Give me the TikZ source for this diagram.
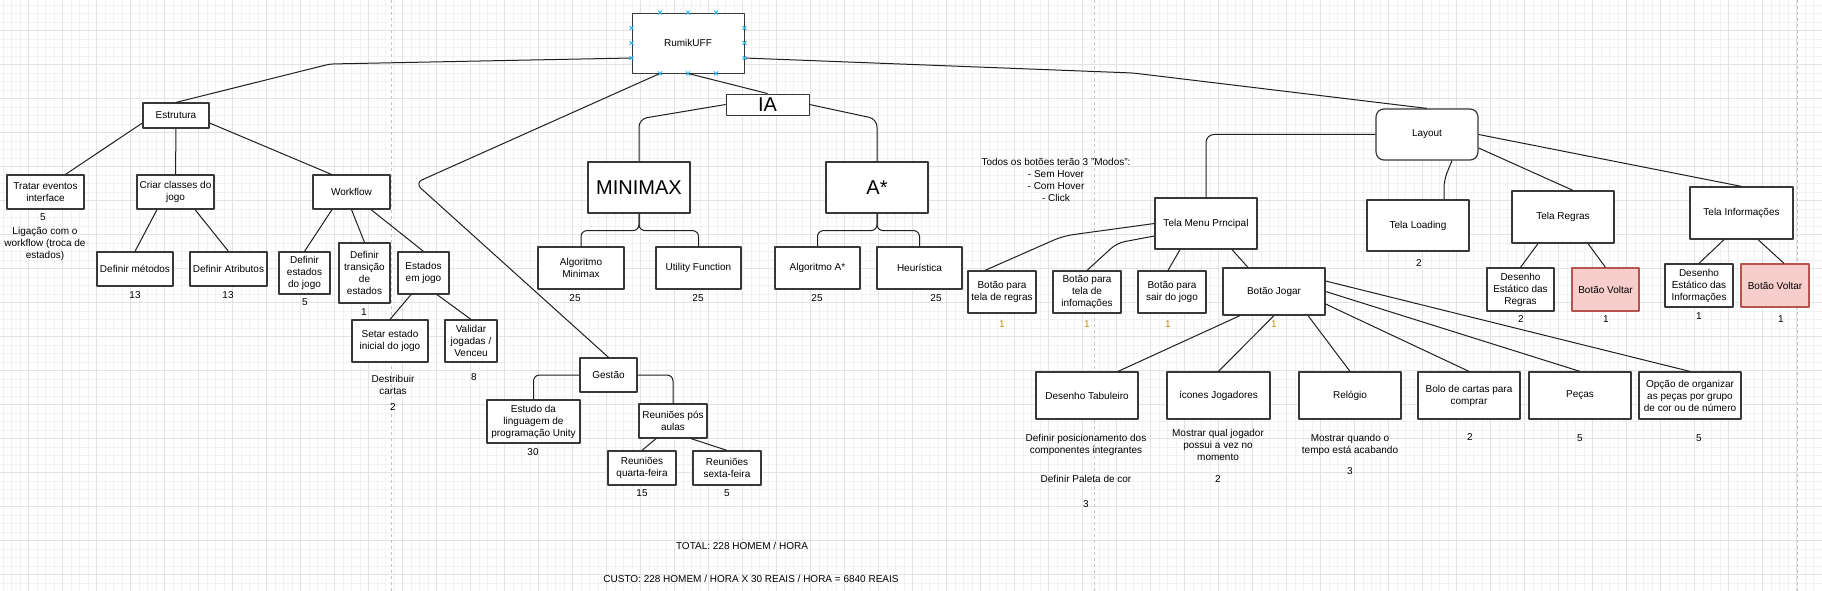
\documentclass[tikz,border=0pt]{standalone}
\usepackage{fontspec}
\setmainfont{Liberation Sans}

\definecolor{gridmin}{HTML}{F2F2F2}
\definecolor{gridmaj}{HTML}{E3E3E3}
\definecolor{pagebrk}{HTML}{C4C4C4}
\definecolor{voltfill}{HTML}{F8CECC}
\definecolor{voltline}{HTML}{B85450}
\definecolor{handle}{HTML}{29B6F2}
\definecolor{ptsorange}{HTML}{C98A0C}

\tikzset{
  box/.style={draw=black!78, line width=1.2pt, fill=white, align=center, inner sep=1pt,
    font=\fontsize{10}{12}\selectfont},
  bigbox/.style={box, font=\fontsize{20}{24}\selectfont},
  redbox/.style={box, fill=voltfill, draw=voltline},
  wh/.style 2 args={minimum width=#1pt, minimum height=#2pt},
  lbl/.style={align=center, inner sep=0pt, font=\fontsize{10}{12}\selectfont},
  link/.style={draw=black!88, line width=1pt},
  handlemark/.style={draw=handle, line width=0.8pt},
}

\begin{document}
\begin{tikzpicture}[x=1pt,y=-1pt,line join=round]
  \useasboundingbox (0,0) rectangle (1822,591);
  \fill[white] (0,0) rectangle (1822,591);
  % grid
  \foreach \k in {0,...,214} \draw[gridmin,line width=0.5pt] ({2.8+8.5*\k},0) -- ++(0,591);
  \foreach \k in {0,...,68} \draw[gridmin,line width=0.5pt] (0,{5.2+8.5*\k}) -- ++(1822,0);
  \foreach \k in {0,...,52} \draw[gridmaj,line width=0.6pt] ({28.3+34*\k},0) -- ++(0,591);
  \foreach \k in {0,...,16} \draw[gridmaj,line width=0.6pt] (0,{30.7+34*\k}) -- ++(1822,0);
  \foreach \px in {391.7,1094.3,1797.2}
    \draw[pagebrk,line width=0.7pt,dash pattern=on 3pt off 3pt] (\px,0) -- ++(0,591);

  % root
  \node[box, wh={112}{60}, line width=0.9pt] (rumik) at (688,43) {RumikUFF};

  % Estrutura
  \node[box, wh={66}{25}] (estr) at (176,115.5) {Estrutura};
  \node[box, wh={77}{34}] (tratar) at (45.5,192) {Tratar eventos\\interface};
  \node[box, wh={77}{34}] (criar) at (175.5,192) {Criar classes do\\jogo};
  \node[box, wh={77}{34}] (workflow) at (351.5,192) {Workflow};
  \node[box, wh={76}{34}] (defmet) at (135,269) {Definir métodos};
  \node[box, wh={77}{34}] (defatr) at (228.5,269) {Definir Atributos};
  \node[box, wh={51}{42}] (defest) at (304.5,273) {Definir\\estados\\do jogo};
  \node[box, wh={51}{60}] (deftra) at (364.5,273) {Definir\\transição\\de\\estados};
  \node[box, wh={51}{42}] (estjogo) at (423.5,273) {Estados\\em jogo};
  \node[box, wh={76}{42}] (setar) at (390,341) {Setar estado\\inicial do jogo};
  \node[box, wh={52}{42}] (validar) at (471,341) {Validar\\jogadas /\\Venceu};
  \node[lbl] (hTratar) at (43,217) {5};
  \node[lbl] (nTratar) at (45,244) {Ligação com o\\workflow (troca de\\estados)};
  \node[lbl] (hDefmet) at (135,295) {13};
  \node[lbl] (hDefatr) at (228,295) {13};
  \node[lbl] (hDefest) at (305,302) {5};
  \node[lbl] (hDeftra) at (364,312) {1};
  \node[lbl] (nSetar) at (393,385) {Destribuir\\cartas};
  \node[lbl] (hSetar) at (393,407) {2};
  \node[lbl] (hValidar) at (474,377) {8};

  % IA
  \node[bigbox, wh={83}{21}, line width=0.9pt] (ia) at (767.5,104.5) {IA};
  \node[bigbox, wh={102}{51}] (minimax) at (639,187.5) {MINIMAX};
  \node[bigbox, wh={102}{51}] (astar) at (877,187.5) {A*};
  \node[box, wh={86}{42}] (algmm) at (581,268) {Algoritmo\\Minimax};
  \node[box, wh={85}{42}] (utility) at (698.5,268) {Utility Function};
  \node[box, wh={85}{42}] (algastar) at (817.5,268) {Algoritmo A*};
  \node[box, wh={85}{42}] (heur) at (919.5,268) {Heurística};
  \node[lbl] (hAlgmm) at (575,298) {25};
  \node[lbl] (hUtility) at (698,298) {25};
  \node[lbl] (hAlgastar) at (817,298) {25};
  \node[lbl] (hHeur) at (936,298) {25};

  % Gestao
  \node[box, wh={57}{34}] (gestao) at (608.5,375) {Gestão};
  \node[box, wh={93}{43}] (estudo) at (533.5,421.5) {Estudo da\\linguagem de\\programação Unity};
  \node[box, wh={68}{34}] (reunpos) at (673,421) {Reuniões pós\\aulas};
  \node[box, wh={68}{34}] (reunqua) at (642,468) {Reuniões\\quarta-feira};
  \node[box, wh={68}{34}] (reunsex) at (727,468) {Reuniões\\sexta-feira};
  \node[lbl] (hEstudo) at (533,452) {30};
  \node[lbl] (hReunqua) at (642,493) {15};
  \node[lbl] (hReunsex) at (727,493) {5};

  \node[lbl] (total) at (742,546) {TOTAL: 228 HOMEM / HORA};
  \node[lbl] (custo) at (751,579) {CUSTO: 228 HOMEM / HORA X 30 REAIS / HORA = 6840 REAIS};

  % Layout
  \node[box, wh={102}{51}, rounded corners=8pt] (layout) at (1427,134.5) {Layout};
  \node[box, wh={102}{51}] (menu) at (1206,223.5) {Tela Menu Prncipal};
  \node[box, wh={102}{51}] (loading) at (1418,225.5) {Tela Loading};
  \node[box, wh={102}{52}] (regras) at (1563,217) {Tela Regras};
  \node[box, wh={103}{52}] (info) at (1741.5,213) {Tela Informações};
  \node[box, wh={67}{43}] (desreg) at (1520.5,289.5) {Desenho\\Estático das\\Regras};
  \node[redbox, wh={67}{43}] (volt1) at (1605.5,289.5) {Botão Voltar};
  \node[box, wh={68}{43}] (desinf) at (1699,285.5) {Desenho\\Estático das\\Informações};
  \node[redbox, wh={68}{43}] (volt2) at (1775,285.5) {Botão Voltar};
  \node[lbl] (hLoading) at (1419,263) {2};
  \node[lbl] (hDesreg) at (1521,319) {2};
  \node[lbl] (hVolt1) at (1606,319) {1};
  \node[lbl] (hDesinf) at (1699,316) {1};
  \node[lbl] (hVolt2) at (1781,319) {1};

  \node[lbl] (modos) at (1056,180) {Todos os botões terão 3 "Modos":\\- Sem Hover\\- Com Hover\\- Click};
  \node[box, wh={68}{42}] (bregras) at (1002,292) {Botão para\\tela de regras};
  \node[box, wh={68}{42}] (binfo) at (1087,292) {Botão para\\tela de\\infomações};
  \node[box, wh={68}{42}] (bsair) at (1172,292) {Botão para\\sair do jogo};
  \node[box, wh={102}{47}] (bjogar) at (1274,291.5) {Botão Jogar};
  \node[lbl, text=ptsorange] (hBregras) at (1002,324) {1};
  \node[lbl, text=ptsorange] (hBinfo) at (1087,324) {1};
  \node[lbl, text=ptsorange] (hBsair) at (1168,324) {1};
  \node[lbl, text=ptsorange] (hBjogar) at (1274,324) {1};

  \node[box, wh={102}{47}] (destab) at (1087,395.5) {Desenho Tabuleiro};
  \node[box, wh={103}{47}] (icones) at (1218.5,395.5) {ícones Jogadores};
  \node[box, wh={102}{47}] (relogio) at (1350,395.5) {Relógio};
  \node[box, wh={102}{47}] (bolo) at (1469,395.5) {Bolo de cartas para\\comprar};
  \node[box, wh={102}{47}] (pecas) at (1580,395.5) {Peças};
  \node[box, wh={102}{47}] (opcao) at (1690,395.5) {Opção de organizar\\as peças por grupo\\de cor ou de número};
  \node[lbl] (nDestab) at (1086,445) {Definir posicionamento dos\\componentes integrantes};
  \node[lbl] (pDestab) at (1086,479) {Definir Paleta de cor};
  \node[lbl] (hDestab) at (1086,504) {3};
  \node[lbl] (nIcones) at (1218,445) {Mostrar qual jogador\\possui a vez no\\momento};
  \node[lbl] (hIcones) at (1218,479) {2};
  \node[lbl] (nRelogio) at (1350,445) {Mostrar quando o\\tempo está acabando};
  \node[lbl] (hRelogio) at (1350,471) {3};
  \node[lbl] (hBolo) at (1470,437) {2};
  \node[lbl] (hPecas) at (1580,438) {5};
  \node[lbl] (hOpcao) at (1699,438) {5};

  % connectors
  \draw[link, rounded corners=4pt] (estr.north) -- (330,64) -- ([yshift=-15pt]rumik.west);
  \draw[link, rounded corners=4pt] ([yshift=-15pt]rumik.east) -- (1133,73) -- (layout.north);
  \draw[link] (rumik.south) -- (ia.north);
  \draw[link, rounded corners=8pt] ([xshift=-28pt]rumik.south) -- (415,183) -- (gestao.north);

  \draw[link] ([yshift=-7.5pt]estr.west) -- ([xshift=20pt]tratar.north);
  \draw[link] (estr.south) -- (criar.north);
  \draw[link] ([yshift=-7.5pt]estr.east) -- ([xshift=-20pt]workflow.north);
  \draw[link] ([xshift=-18.5pt]criar.south) -- (defmet.north);
  \draw[link] ([xshift=19.5pt]criar.south) -- (defatr.north);
  \draw[link] ([xshift=-19.5pt]workflow.south) -- (defest.north);
  \draw[link] (workflow.south) -- (deftra.north);
  \draw[link] ([xshift=19.5pt]workflow.south) -- (estjogo.north);
  \draw[link] ([xshift=-12.5pt]estjogo.south) -- (setar.north);
  \draw[link] ([xshift=13.5pt]estjogo.south) -- (validar.north);

  \draw[link, rounded corners=8pt] (ia.west) -- (639,119) -- (minimax.north);
  \draw[link, rounded corners=8pt] (ia.east) -- (877,119) -- (astar.north);
  \draw[link, rounded corners=6pt] (minimax.south) -- ++(0,17) -| (algmm.north);
  \draw[link, rounded corners=6pt] (minimax.south) -- ++(0,17) -| (utility.north);
  \draw[link, rounded corners=6pt] (astar.south) -- ++(0,17) -| (algastar.north);
  \draw[link, rounded corners=6pt] (astar.south) -- ++(0,17) -| (heur.north);

  \draw[link, rounded corners=6pt] (gestao.west) -| (estudo.north);
  \draw[link, rounded corners=6pt] (gestao.east) -| (reunpos.north);
  \draw[link] ([xshift=-17pt]reunpos.south) -- (reunqua.north);
  \draw[link] ([xshift=18pt]reunpos.south) -- (reunsex.north);

  \draw[link, rounded corners=8pt] (layout.west) -| (menu.north);
  \draw[link, rounded corners=8pt] ([xshift=25pt]layout.south) -- (1444,180) -- ([xshift=26pt]loading.north);
  \draw[link] ([yshift=-13.5pt]layout.east) -- ([xshift=10pt]regras.north);
  \draw[link] (layout.east) -- (info.north);
  \draw[link] ([xshift=-25pt]regras.south) -- (desreg.north);
  \draw[link] ([xshift=25pt]regras.south) -- (volt1.north);
  \draw[link] ([xshift=-17.5pt]info.south) -- (desinf.north);
  \draw[link] ([xshift=16.5pt]info.south) -- ([xshift=9pt]volt2.north);

  \draw[link, rounded corners=10pt] (menu.west) -- (1063,236) -- ([xshift=-17pt]bregras.north);
  \draw[link, rounded corners=8pt] ([yshift=-12.5pt]menu.west) -- (1117,243) -- (binfo.north);
  \draw[link] ([xshift=-26pt]menu.south) -- ([xshift=-4pt]bsair.north);
  \draw[link] ([xshift=26pt]menu.south) -- ([xshift=-26pt]bjogar.north);

  \draw[link] ([xshift=-34pt]bjogar.south) -- ([xshift=31pt]destab.north);
  \draw[link] (bjogar.south) -- (icones.north);
  \draw[link] ([xshift=34pt]bjogar.south) -- (relogio.north);
  \draw[link] ([yshift=-12.5pt]bjogar.east) -- (bolo.north);
  \draw[link] (bjogar.east) -- (pecas.north);
  \draw[link] ([yshift=10.5pt]bjogar.east) -- (opcao.north);

  % handles on the root box
  \foreach \hx in {-28,0,28} {
    \draw[handlemark] ([xshift=\hx pt]rumik.north) ++(-2,-2) -- ++(4,4) ++(-4,0) -- ++(4,-4);
    \draw[handlemark] ([xshift=\hx pt]rumik.south) ++(-2,-2) -- ++(4,4) ++(-4,0) -- ++(4,-4);
  }
  \foreach \hy in {15,0,-15} {
    \draw[handlemark] ([yshift=\hy pt]rumik.west) ++(-2,-2) -- ++(4,4) ++(-4,0) -- ++(4,-4);
    \draw[handlemark] ([yshift=\hy pt]rumik.east) ++(-2,-2) -- ++(4,4) ++(-4,0) -- ++(4,-4);
  }
\end{tikzpicture}
\end{document}
